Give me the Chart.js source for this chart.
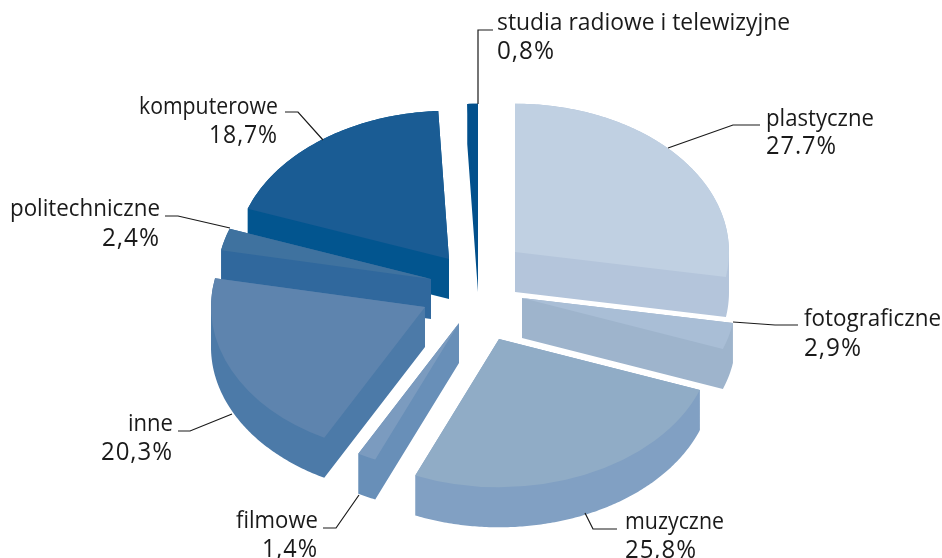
<!DOCTYPE html>
<html lang="pl">
<head>
<meta charset="utf-8">
<title>Pie</title>
<script src="https://cdn.jsdelivr.net/npm/chart.js@4"></script>
<style>
html,body{margin:0;padding:0;background:#fff}
#wrap{position:relative;width:942px;height:558px;overflow:hidden}
</style>
</head>
<body>
<div id="wrap"><canvas id="c" width="942" height="558"></canvas></div>
<script>
const categories = ["plastyczne","fotograficzne","muzyczne","filmowe","inne","politechniczne","komputerowe","studia radiowe i telewizyjne"];
const shares = [27.7,2.9,25.8,1.4,20.3,2.4,18.7,0.8];
const shareLabels = ["27.7%","2,9%","25,8%","1,4%","20,3%","2,4%","18,7%","0,8%"];

const topColors  = ["#C0D0E2","#A9BED6","#90ACC6","#7B9BBF","#5E84AE","#3F729F","#1A5C94","#02508C"];
const sideColors = ["#B4C5DB","#9EB4CC","#81A0C3","#688FB8","#4C7AA8","#30689D","#02558F","#02508C"];
// exploded-slice displacement from the pie centre
const explode = [[35,-38],[42,8],[19,49],[-21,33],[-55,17],[-49,-11],[-31,-31],[-2,-38]];
const paintOrder = [7,6,0,5,1,4,3,2];
const tilt = 0.693, depth = 40, radius = 214;

const leaderLines = [
  [[668,148],[733,125],[760,125]],
  [[733,322],[775,325],[798,325]],
  [[585,513],[593,529],[617,529]],
  [[359,495],[336,528],[323,528]],
  [[232,414],[190,431],[178,431]],
  [[230,228],[178,216],[165,216]],
  [[323,140],[298,112],[285,112]],
  [[478,104],[478,30],[493,30]]
];
const labelAnchors = [
  [766,"left",126,154],[804,"left",326,356],[625,"left",529,558],[318,"right",528,557],
  [173,"right",431,460],[160,"right",216,246],[278,"right",114,143],[497,"left",30,59]
];
const nameWidths = [108,137,99,82,45,150,139,293];
const shareWidths = [71,58,72,56,72,58,69,58];

function sidePath(ctx,a){
  const pts=[[0,0]], n=Math.max(4,Math.ceil((a.endAngle-a.startAngle)*90));
  for(let s=0;s<=n;s++){
    const t=a.startAngle+(a.endAngle-a.startAngle)*s/n;
    pts.push([Math.cos(t)*a.outerRadius,Math.sin(t)*a.outerRadius*tilt]);
  }
  ctx.beginPath();
  const poly=(q)=>{
    let area=0;
    q.forEach((p,k)=>{const r=q[(k+1)%q.length];area+=p[0]*r[1]-r[0]*p[1];});
    if(area<0)q=q.slice().reverse();
    q.forEach((p,k)=>k?ctx.lineTo(p[0],p[1]):ctx.moveTo(p[0],p[1]));
    ctx.closePath();
  };
  poly(pts);
  poly(pts.map(p=>[p[0],p[1]+depth]));
  pts.forEach((p,k)=>{
    const r=pts[(k+1)%pts.length];
    if(Math.abs(p[0]-r[0])<1e-6)return;
    poly([p,r,[r[0],r[1]+depth],[p[0],p[1]+depth]]);
  });
}

const pie3d = {
  id:"pie3d",
  beforeDatasetDraw(chart,args){
    const ctx = chart.ctx, arcs = args.meta.data;
    for(const i of paintOrder){
      const a = arcs[i], [ex,ey] = explode[i];
      ctx.save();
      ctx.translate(a.x+ex,a.y+ey);
      ctx.fillStyle = sideColors[i];
      sidePath(ctx,a);
      ctx.fill("nonzero");
      ctx.scale(1,tilt);
      ctx.translate(-a.x,-a.y);
      a.draw(ctx);
      ctx.restore();
    }
    return false;
  },
  afterDraw(chart){
    const ctx = chart.ctx;
    ctx.save();
    ctx.strokeStyle="#1a1a1a"; ctx.lineWidth=1.2; ctx.lineJoin="miter";
    for(const line of leaderLines){
      ctx.beginPath();
      line.forEach((p,j)=>j?ctx.lineTo(p[0],p[1]):ctx.moveTo(p[0],p[1]));
      ctx.stroke();
    }
    ctx.fillStyle="#1a1a1a";
    ctx.textBaseline="alphabetic";
    categories.forEach((name,i)=>{
      const [x,align,y1,y2]=labelAnchors[i];
      ctx.textAlign=align;
      ctx.font='400 24px "Open Sans"';
      ctx.letterSpacing="0px";
      ctx.fillText(name,x,y1,nameWidths[i]);
      ctx.font='400 25px "Open Sans"';
      ctx.letterSpacing="1px";
      ctx.fillText(shareLabels[i],x,y2,shareWidths[i]);
    });
    ctx.restore();
  }
};

new Chart(document.getElementById("c"),{
  type:"pie",
  data:{labels:categories,datasets:[{data:shares,backgroundColor:topColors,borderWidth:0,offset:0}]},
  options:{
    responsive:false,animation:false,
    radius:radius,
    events:[],
    layout:{padding:{left:18,right:0,top:22,bottom:0}},
    plugins:{legend:{display:false},tooltip:{enabled:false}}
  },
  plugins:[pie3d]
});
</script>
</body>
</html>
